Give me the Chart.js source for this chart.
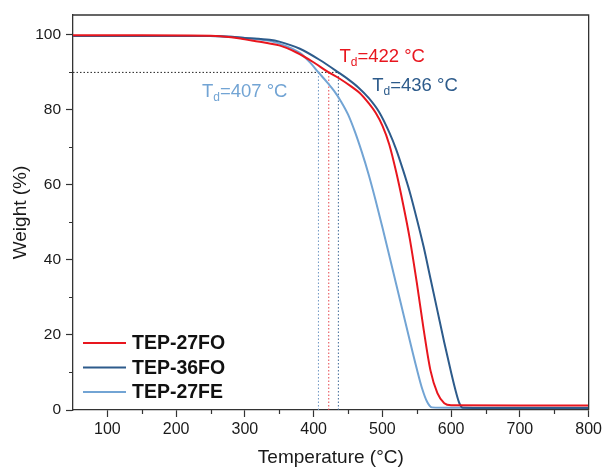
<!DOCTYPE html>
<html><head><meta charset="utf-8">
<script src="https://cdn.jsdelivr.net/npm/chart.js@4.4.1/dist/chart.umd.min.js"></script>
<style>html,body{margin:0;padding:0;background:#fff}</style>
</head><body>
<canvas id="c" width="605" height="470"></canvas>
<script>
// ---- data ----
const seriesNames = ['TEP-27FO', 'TEP-36FO', 'TEP-27FE'];

const tempFO27   = [50, 150, 250, 280, 300, 330, 350, 375, 398, 422, 438, 455, 467, 480, 490, 500, 510, 520, 530, 540, 550, 560, 570, 580, 590, 600, 700, 800];
const weightFO27 = [99.9, 99.9, 99.8, 99.4, 98.8, 97.9, 97.2, 95.3, 92.9, 90.0, 88.3, 86.2, 84.5, 81.8, 79.3, 75.8, 70.8, 63.5, 55.0, 45.5, 34.0, 21.5, 10.5, 4.5, 1.8, 1.25, 1.2, 1.2];

const tempFO36   = [50, 150, 250, 280, 300, 336, 350, 380, 409, 436, 450, 465, 480, 495, 510, 520, 530, 540, 550, 560, 570, 580, 590, 600, 607, 612, 617, 700, 800];
const weightFO36 = [99.7, 99.7, 99.7, 99.5, 99.2, 98.7, 98.2, 96.3, 93.3, 90.0, 88.2, 86.0, 83.2, 79.5, 74.0, 69.5, 64.0, 58.0, 51.0, 43.5, 35.0, 26.5, 18.0, 10.0, 4.8, 1.8, 0.6, 0.5, 0.5];

const tempFE27   = [50, 150, 250, 280, 300, 336, 360, 380, 395, 407, 420, 430, 440, 450, 460, 470, 480, 490, 500, 510, 520, 530, 540, 550, 558, 565, 572, 600, 700, 800];
const weightFE27 = [99.7, 99.7, 99.7, 99.5, 99.2, 98.4, 97.0, 95.2, 92.6, 90.0, 87.3, 85.0, 82.2, 78.8, 74.2, 68.8, 62.8, 56.0, 48.7, 41.2, 33.6, 26.0, 18.4, 11.0, 5.6, 2.2, 0.7, 0.6, 0.6, 0.6];

const tdValues = [422, 436, 407];   // Td for each series (same order)
const tdWeight = 90;                // 10 % weight loss level

const xTickValues  = [100, 200, 300, 400, 500, 600, 700, 800];
const xMinorValues = [150, 250, 350, 450, 550, 650, 750];
const yTickValues  = [0, 20, 40, 60, 80, 100];
const yMinorValues = [10, 30, 50, 70, 90];

// ---- styles / layout (not data) ----
const colors = ['#e8161e', '#2d5b8b', '#72a4d4'];
const vlineColors = ['#e8454b', '#3e6a98', '#6f97c4'];
const FONT = '"Liberation Sans", Arial, sans-serif';
// label anchors in data units (left x, baseline y)
const labelAnchors = [{x: 437.5, y: 92.9}, {x: 485.2, y: 85.1}, {x: 237.5, y: 83.5}];

const pts = (xs, ys) => xs.map((x, i) => ({x: x, y: ys[i]}));
const seriesData = [pts(tempFO27, weightFO27), pts(tempFO36, weightFO36), pts(tempFE27, weightFE27)];

const datasets = seriesData.map((d, i) => ({
  label: seriesNames[i], data: d, borderColor: colors[i], backgroundColor: colors[i],
  borderWidth: 2, pointRadius: 0, cubicInterpolationMode: 'monotone', fill: false
}));
// dotted guide lines
const tdMax = Math.max(...tdValues);
datasets.push({
  label: '_h', data: [{x: 50, y: tdWeight}, {x: tdMax, y: tdWeight}], borderColor: '#222',
  borderWidth: 1, borderDash: [1.5, 2], pointRadius: 0, fill: false
});
tdValues.forEach((t, i) => datasets.push({
  label: '_v' + i, data: [{x: t, y: 0}, {x: t, y: tdWeight}], borderColor: vlineColors[i],
  borderWidth: 1, borderDash: [1.5, 2], pointRadius: 0, fill: false
}));

const extras = {
  id: 'extras',
  afterDraw(chart) {
    const ctx = chart.ctx, a = chart.chartArea, xs = chart.scales.x, ys = chart.scales.y;
    ctx.save();
    // frame top and right
    ctx.strokeStyle = '#333'; ctx.lineWidth = 1.3;
    ctx.beginPath();
    ctx.moveTo(a.left, a.top); ctx.lineTo(a.right, a.top); ctx.lineTo(a.right, a.bottom);
    ctx.stroke();
    // minor ticks
    ctx.lineWidth = 1.2;
    ctx.beginPath();
    xMinorValues.forEach(v => { const px = Math.round(xs.getPixelForValue(v)) + 0.5; ctx.moveTo(px, a.bottom); ctx.lineTo(px, a.bottom + 4); });
    yMinorValues.forEach(v => { const py = Math.round(ys.getPixelForValue(v)) + 0.5; ctx.moveTo(a.left, py); ctx.lineTo(a.left - 4, py); });
    ctx.stroke();
    // Td labels
    tdValues.forEach((t, i) => {
      let x = xs.getPixelForValue(labelAnchors[i].x), y = ys.getPixelForValue(labelAnchors[i].y);
      ctx.fillStyle = colors[i]; ctx.textAlign = 'left'; ctx.textBaseline = 'alphabetic';
      ctx.font = '18.5px ' + FONT; ctx.fillText('T', x, y); x += ctx.measureText('T').width;
      ctx.font = '12px ' + FONT; ctx.fillText('d', x, y + 4); x += ctx.measureText('d').width;
      ctx.font = '18.5px ' + FONT; ctx.fillText('=' + t + ' \u00B0C', x, y);
    });
    // legend
    ctx.font = 'bold 19.5px ' + FONT; ctx.textBaseline = 'middle';
    seriesNames.forEach((n, i) => {
      const y = a.bottom - 67 + i * 24.5;
      ctx.strokeStyle = colors[i]; ctx.lineWidth = 2;
      ctx.beginPath(); ctx.moveTo(a.left + 10, y); ctx.lineTo(a.left + 53, y); ctx.stroke();
      ctx.fillStyle = '#111'; ctx.fillText(n, a.left + 59, y + 1);
    });
    ctx.restore();
  }
};

new Chart(document.getElementById('c'), {
  type: 'line',
  data: {datasets},
  options: {
    responsive: false, animation: false, devicePixelRatio: 1,
    layout: {padding: {top: 15, right: 15, left: 0, bottom: 0}},
    plugins: {legend: {display: false}, tooltip: {enabled: false}},
    scales: {
      x: {
        type: 'linear', min: 50, max: 800,
        afterBuildTicks: s => { s.ticks = xTickValues.map(v => ({value: v})); },
        afterFit: s => { s.height = 60; },
        grid: {drawOnChartArea: false, drawTicks: true, tickLength: 7, tickColor: '#333', tickWidth: 1.2},
        border: {display: true, color: '#333', width: 1.3},
        ticks: {color: '#1a1a1a', font: {family: FONT, size: 16}, padding: 3, maxRotation: 0, autoSkip: false},
        title: {display: true, text: 'Temperature (\u00B0C)', color: '#1a1a1a', font: {family: FONT, size: 19}, padding: {top: 0, bottom: 1}}
      },
      y: {
        type: 'linear', min: 0, max: 105.3,
        afterBuildTicks: s => { s.ticks = yTickValues.map(v => ({value: v})); },
        afterFit: s => { s.width = 73; },
        grid: {drawOnChartArea: false, drawTicks: true, tickLength: 7, tickColor: '#333', tickWidth: 1.2},
        border: {display: true, color: '#333', width: 1.3},
        ticks: {color: '#1a1a1a', font: {family: FONT, size: 15.5}, padding: 5, autoSkip: false},
        title: {display: true, text: 'Weight (%)', color: '#1a1a1a', font: {family: FONT, size: 19}, padding: {top: 9, bottom: 0}}
      }
    }
  },
  plugins: [extras]
});
</script>
</body></html>
